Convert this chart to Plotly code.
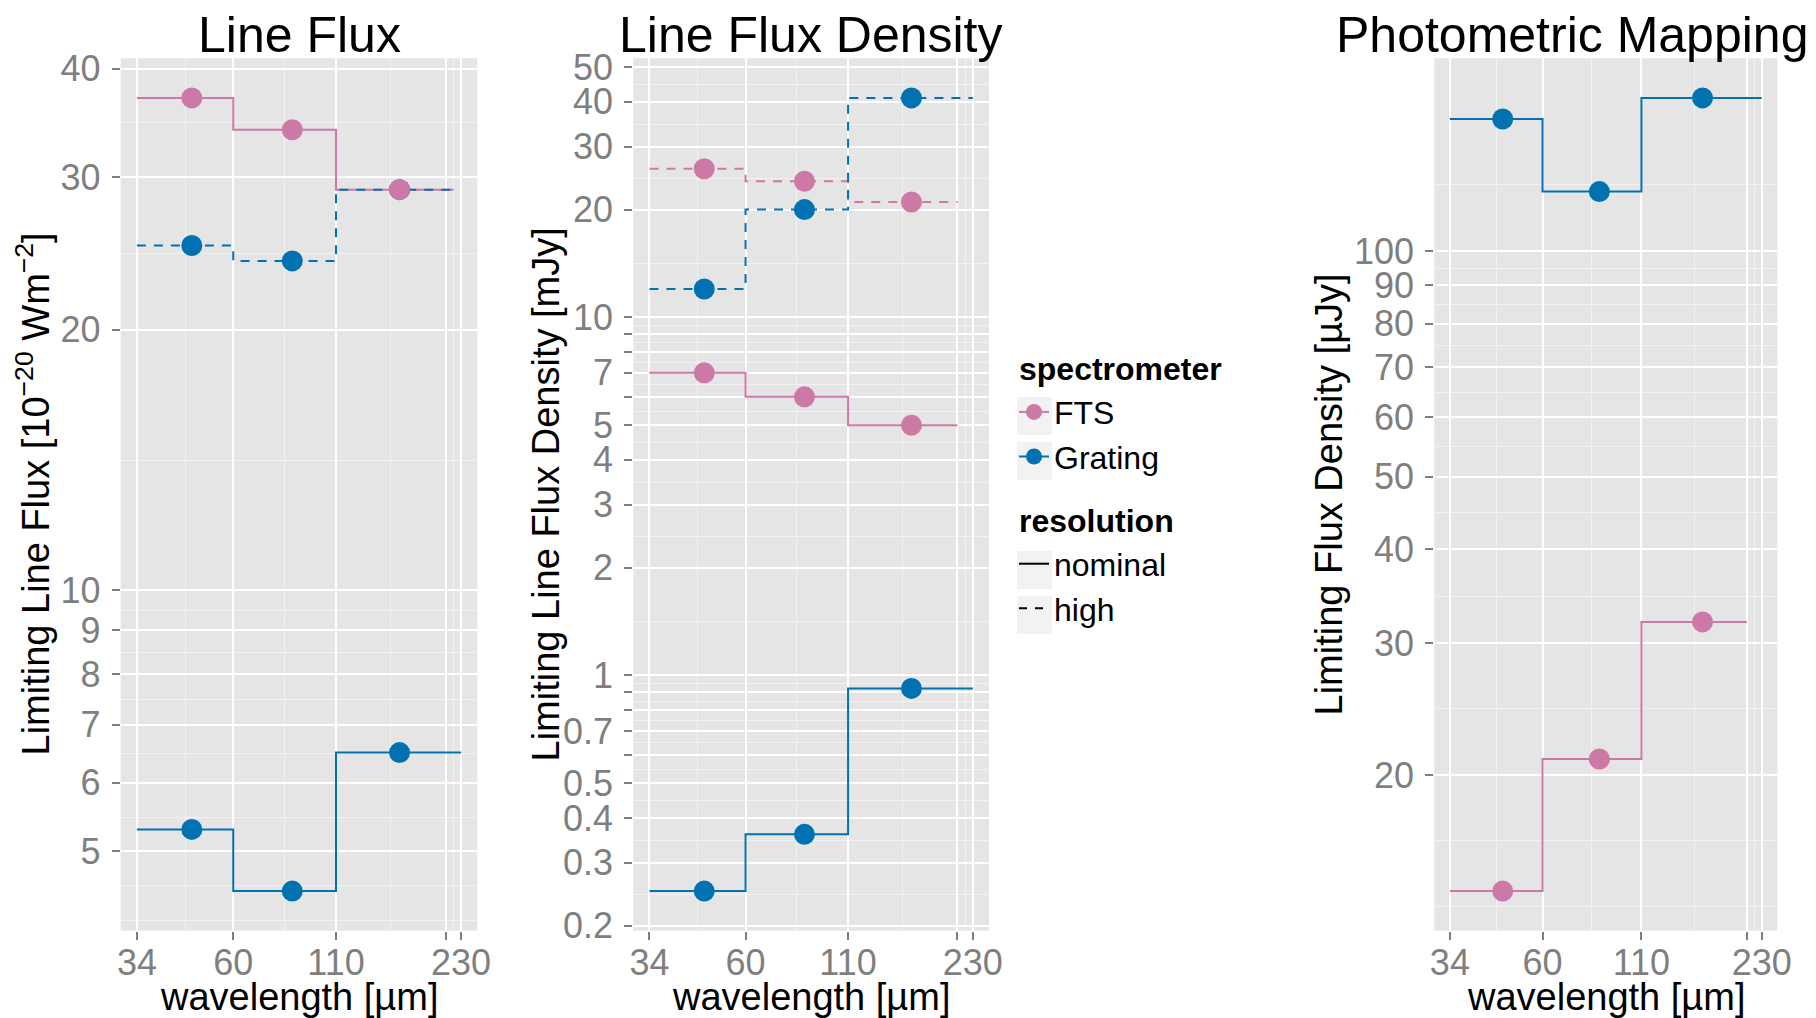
import numpy as np
import plotly.graph_objects as go

# ---------------- data ----------------
band_start = [34, 60, 110]              # band lower edges [µm]
point_wavelength = [47, 85, 160]        # band centres where points sit [µm]

x_breaks = [34, 60, 110, 210, 230]
x_labels = ["34", "60", "110", "", "230"]

# Line Flux [1e-20 W m^-2]
lf_fts_nominal = [37, 34, 29]
lf_fts_nominal_end = 220
lf_grating_high = [25, 24, 29]
lf_grating_high_end = 220
lf_grating_nominal = [5.3, 4.5, 6.5]
lf_grating_nominal_end = 230
lf_y_breaks = [5, 6, 7, 8, 9, 10, 20, 30, 40]
lf_y_labels = ["5", "6", "7", "8", "9", "10", "20", "30", "40"]

# Line Flux Density [mJy]
lfd_fts_high = [26, 24, 21]
lfd_fts_high_end = 210
lfd_grating_high = [12, 20, 41]
lfd_grating_high_end = 230
lfd_fts_nominal = [7, 6, 5]
lfd_fts_nominal_end = 210
lfd_grating_nominal = [0.25, 0.36, 0.92]
lfd_grating_nominal_end = 230
lfd_y_breaks = [0.2, 0.3, 0.4, 0.5, 0.6, 0.7, 0.8, 0.9, 1, 2, 3, 4, 5, 6, 7, 8, 9, 10, 20, 30, 40, 50]
lfd_y_labels = ["0.2", "0.3", "0.4", "0.5", "", "0.7", "", "", "1", "2", "3", "4", "5", "", "7", "", "",
                "10", "20", "30", "40", "50"]

# Photometric Mapping [µJy]
pm_grating = [150, 120, 160]
pm_grating_end = 230
pm_fts = [14, 21, 32]
pm_fts_end = 210
pm_y_breaks = [20, 30, 40, 50, 60, 70, 80, 90, 100]
pm_y_labels = ["20", "30", "40", "50", "60", "70", "80", "90", "100"]
pm_y_extra_break = [150]

titles = ["Line Flux", "Line Flux Density", "Photometric Mapping"]
y_titles = ["Limiting Line Flux [10<sup>\u221220</sup> Wm<sup>\u22122</sup>]",
            "Limiting Line Flux Density [mJy]",
            "Limiting Flux Density [\u00b5Jy]"]
x_title = "wavelength [\u00b5m]"

# ---------------- style ----------------
W, H = 1816, 1018
FTS_C = "#CC79A7"
GRA_C = "#0072B2"
FONT = "Liberation Sans, Arial, sans-serif"
TICK_GREY = "#7F7F7F"
DASH = "9px,8px"

panels_px = [(120.7, 477.3), (633.3, 989.0), (1434.3, 1777.3)]
top_px, bot_px = 58.3, 930.7


def px_x(p):
    return p / W


def px_y(p):
    return 1 - p / H


def log_range(vals):
    lo, hi = np.log10(min(vals)), np.log10(max(vals))
    pad = 0.05 * (hi - lo)
    return [lo - pad, hi + pad]


def minor_vals(breaks, rng, extend=True):
    lb = list(np.log10(breaks))
    if extend:
        lb = [lb[0] - (lb[1] - lb[0])] + lb + [lb[-1] + (lb[-1] - lb[-2])]
    out = set(lb)
    for a, b in zip(lb[:-1], lb[1:]):
        out.add((a + b) / 2)
    major = set(np.round(np.log10(breaks), 6))
    res = [10 ** v for v in sorted(out)
           if rng[0] <= v <= rng[1] and round(v, 6) not in major]
    return res


fig = go.Figure()


def step(values, end, color, dash, xa, ya):
    fig.add_trace(go.Scatter(
        x=band_start + [end], y=values + [values[-1]],
        mode="lines", line=dict(color=color, width=2, dash=dash, shape="hv"),
        xaxis=xa, yaxis=ya, showlegend=False, hoverinfo="skip"))


def points(values, color, xa, ya):
    fig.add_trace(go.Scatter(
        x=point_wavelength, y=values, mode="markers",
        marker=dict(color=color, size=21, line=dict(width=0)),
        xaxis=xa, yaxis=ya, showlegend=False))


# Panel 1
step(lf_fts_nominal, lf_fts_nominal_end, FTS_C, "solid", "x", "y")
step(lf_grating_high, lf_grating_high_end, GRA_C, DASH, "x", "y")
step(lf_grating_nominal, lf_grating_nominal_end, GRA_C, "solid", "x", "y")
points(lf_grating_high, GRA_C, "x", "y")
points(lf_grating_nominal, GRA_C, "x", "y")
points(lf_fts_nominal, FTS_C, "x", "y")

# Panel 2
step(lfd_fts_high, lfd_fts_high_end, FTS_C, DASH, "x2", "y2")
step(lfd_grating_high, lfd_grating_high_end, GRA_C, DASH, "x2", "y2")
step(lfd_fts_nominal, lfd_fts_nominal_end, FTS_C, "solid", "x2", "y2")
step(lfd_grating_nominal, lfd_grating_nominal_end, GRA_C, "solid", "x2", "y2")
points(lfd_fts_high, FTS_C, "x2", "y2")
points(lfd_grating_high, GRA_C, "x2", "y2")
points(lfd_fts_nominal, FTS_C, "x2", "y2")
points(lfd_grating_nominal, GRA_C, "x2", "y2")

# Panel 3
step(pm_grating, pm_grating_end, GRA_C, "solid", "x3", "y3")
step(pm_fts, pm_fts_end, FTS_C, "solid", "x3", "y3")
points(pm_grating, GRA_C, "x3", "y3")
points(pm_fts, FTS_C, "x3", "y3")

# Legend entries
LEG_FONT = 32
fig.add_trace(go.Scatter(x=[None], y=[None], mode="lines+markers", name="FTS",
                         line=dict(color=FTS_C, width=2), marker=dict(color=FTS_C, size=20),
                         legendgroup="spec", legendrank=1,
                         legendgrouptitle=dict(text="<b>spectrometer</b>", font=dict(size=32, color="black"))))
fig.add_trace(go.Scatter(x=[None], y=[None], mode="lines+markers", name="Grating",
                         line=dict(color=GRA_C, width=2), marker=dict(color=GRA_C, size=20),
                         legendgroup="spec", legendrank=2))
fig.add_trace(go.Scatter(x=[None], y=[None], mode="lines", name="nominal",
                         line=dict(color="black", width=2), legendgroup="res", legendrank=3,
                         legendgrouptitle=dict(text="<b>resolution</b>", font=dict(size=32, color="black"))))
fig.add_trace(go.Scatter(x=[None], y=[None], mode="lines", name="high",
                         line=dict(color="black", width=2, dash="8px,8px"), legendgroup="res", legendrank=4))

# Axes
x_rng = log_range(x_breaks[:1] + x_breaks[-1:])
x_minor = [10 ** ((np.log10(a) + np.log10(b)) / 2) for a, b in zip(x_breaks[:-1], x_breaks[1:])]

y_specs = [
    (log_range(lf_fts_nominal + lf_grating_high + lf_grating_nominal), lf_y_breaks, lf_y_labels, lf_y_breaks),
    (log_range(lfd_fts_high + lfd_grating_high + lfd_fts_nominal + lfd_grating_nominal), lfd_y_breaks, lfd_y_labels, lfd_y_breaks),
    (log_range(pm_grating + pm_fts), pm_y_breaks, pm_y_labels, pm_y_breaks + pm_y_extra_break),
]

layout_axes = {}
for i, ((l, r), (yr, yb, yl, ymb)) in enumerate(zip(panels_px, y_specs)):
    sfx = "" if i == 0 else str(i + 1)
    layout_axes["xaxis" + sfx] = dict(
        type="log", domain=[px_x(l), px_x(r)], range=x_rng, anchor="y" + sfx,
        tickmode="array", tickvals=x_breaks, ticktext=x_labels,
        showgrid=True, gridcolor="white", gridwidth=2,
        ticks="outside", ticklen=8, tickwidth=2, tickcolor=TICK_GREY,
        tickfont=dict(size=36, color=TICK_GREY, family=FONT),
        showline=False, zeroline=False, ticklabelstandoff=-8, automargin=False,
        minor=dict(tickmode="array", tickvals=x_minor, showgrid=True,
                   gridcolor="#F2F2F2", gridwidth=1, ticks=""),
    )
    layout_axes["yaxis" + sfx] = dict(
        type="log", domain=[px_y(bot_px), px_y(top_px)], range=yr, anchor="x" + sfx,
        tickmode="array", tickvals=yb, ticktext=yl,
        showgrid=True, gridcolor="white", gridwidth=2,
        ticks="outside", ticklen=8, tickwidth=2, tickcolor=TICK_GREY,
        tickfont=dict(size=36, color=TICK_GREY, family=FONT),
        showline=False, zeroline=False, ticklabelstandoff=4, automargin=False,
        minor=dict(tickmode="array", tickvals=minor_vals(ymb, yr), showgrid=True,
                   gridcolor="#F2F2F2", gridwidth=1, ticks=""),
    )

annotations = []
title_cx = [299, 810.5, 1571.5]
ytitle_cx = [33, 545, 1328]
for i, (l, r) in enumerate(panels_px):
    annotations.append(dict(text=titles[i], x=px_x(title_cx[i]), y=px_y(35), xref="paper", yref="paper",
                            xanchor="center", yanchor="middle", showarrow=False,
                            font=dict(size=50, color="black", family=FONT)))
    annotations.append(dict(text=x_title, x=px_x((l + r) / 2), y=px_y(997), xref="paper", yref="paper",
                            xanchor="center", yanchor="middle", showarrow=False,
                            font=dict(size=38, color="black", family=FONT)))
    annotations.append(dict(text=y_titles[i], x=px_x(ytitle_cx[i]), y=px_y((top_px + bot_px) / 2),
                            xref="paper", yref="paper", textangle=-90,
                            xanchor="center", yanchor="middle", showarrow=False,
                            font=dict(size=38, color="black", family=FONT)))

# light key backgrounds behind the legend glyphs (ggplot style)
LEG_TOP = 340
key_rows_px = [LEG_TOP + 76, LEG_TOP + 121, LEG_TOP + 230, LEG_TOP + 275]
shapes = [dict(type="rect", xref="paper", yref="paper", layer="below",
               x0=px_x(1017), x1=px_x(1052), y0=px_y(r + 19), y1=px_y(r - 19),
               fillcolor="#F2F2F2", line=dict(width=0)) for r in key_rows_px]

fig.update_layout(
    width=W, height=H, margin=dict(l=0, r=0, t=0, b=0, autoexpand=False),
    paper_bgcolor="white", plot_bgcolor="#E5E5E5",
    font=dict(family=FONT, color="black"),
    showlegend=True,
    legend=dict(x=px_x(1014), y=px_y(LEG_TOP), xanchor="left", yanchor="top",
                bgcolor="rgba(0,0,0,0)", font=dict(size=LEG_FONT, color="black", family=FONT),
                traceorder="grouped", tracegroupgap=18, itemsizing="trace", itemwidth=30),
    annotations=annotations,
    shapes=shapes,
    **layout_axes,
)

fig.write_html("out.html", config={"displayModeBar": False})
